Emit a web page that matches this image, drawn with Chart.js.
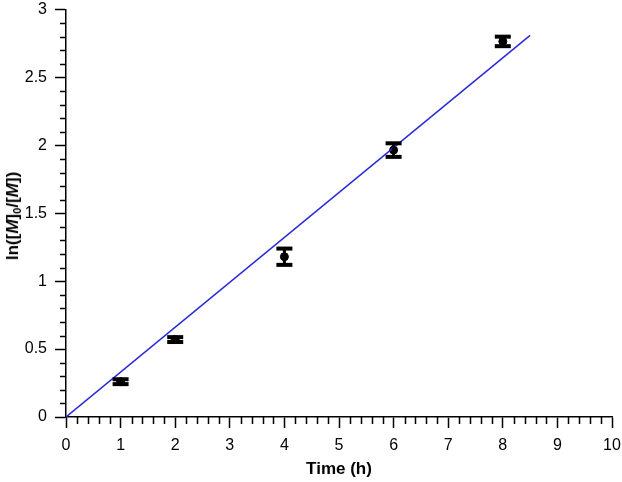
<!DOCTYPE html>
<html>
<head>
<meta charset="utf-8">
<script src="https://cdn.jsdelivr.net/npm/chart.js@4/dist/chart.umd.min.js"></script>
<style>
  html, body { margin: 0; padding: 0; background: #fff; }
  #wrap { position: relative; width: 622px; height: 482px; }
  #ylab {
    position: absolute; left: 13px; top: 216px;
    transform: translate(-50%, -50%) rotate(-90deg);
    font: bold 17px "Liberation Sans", Arial, sans-serif;
    white-space: nowrap; color: #000;
  }
  #ylab i { font-style: italic; }
  #ylab sub { font-size: 11px; vertical-align: -3px; }
</style>
</head>
<body>
<div id="wrap">
  <canvas id="chart" width="622" height="482"></canvas>
  <div id="ylab">ln([<i>M</i>]<sub>0</sub>/[<i>M</i>])</div>
</div>
<script>
'use strict';

/* ─── DATA ───────────────────────────────────────────────── */
const times     = [1, 2, 4, 6, 8];
const lnRatio   = [0.26, 0.57, 1.18, 1.965, 2.765];
const errors    = [0.018, 0.018, 0.06, 0.05, 0.035];
const fitX      = [0, 8.5];
const fitY      = [0, 2.81];
const xTicks    = [0, 1, 2, 3, 4, 5, 6, 7, 8, 9, 10];
const yTicks    = [0, 0.5, 1, 1.5, 2, 2.5, 3];

const FONT = '"Liberation Sans", Arial, Helvetica, sans-serif';

/* ─── PLUGINS ────────────────────────────────────────────── */
// minor ticks on both axes
const minorTicks = {
  id: 'minorTicks',
  afterDraw(chart) {
    const { ctx, chartArea, scales: { x, y } } = chart;
    ctx.save();
    ctx.strokeStyle = '#000';
    ctx.lineWidth = 1.5;
    ctx.beginPath();
    for (let i = 0; i <= 50; i++) {
      if (i % 5 === 0) continue;
      const px = Math.round(x.getPixelForValue(i * 0.2)) + 0.5;
      ctx.moveTo(px, chartArea.bottom);
      ctx.lineTo(px, chartArea.bottom + 7);
    }
    for (let i = 0; i <= 30; i++) {
      if (i % 5 === 0) continue;
      const py = Math.round(y.getPixelForValue(i * 0.1)) + 0.5;
      ctx.moveTo(chartArea.left, py);
      ctx.lineTo(chartArea.left - 6, py);
    }
    ctx.stroke();
    ctx.restore();
  },
};

// error bars with heavy caps
const errorBars = {
  id: 'errorBars',
  afterDatasetsDraw(chart) {
    const { ctx, scales: { x, y } } = chart;
    ctx.save();
    ctx.fillStyle = '#000';
    times.forEach((t, i) => {
      const px = x.getPixelForValue(t);
      const top = y.getPixelForValue(lnRatio[i] + errors[i]);
      const bot = y.getPixelForValue(lnRatio[i] - errors[i]);
      ctx.fillRect(px - 1.5, top, 3, bot - top);
      ctx.fillRect(px - 8, top - 2, 16, 4);
      ctx.fillRect(px - 8, bot - 2, 16, 4);
    });
    ctx.restore();
  },
};

// drop the automatic label overhang so the plot area is set by layout padding
function noOverhang(s) {
  s.paddingTop = 0; s.paddingBottom = 0;
  s.paddingLeft = 0; s.paddingRight = 0;
}

/* ─── CHART ──────────────────────────────────────────────── */
new Chart(document.getElementById('chart'), {
  type: 'scatter',
  data: {
    datasets: [
      {
        type: 'line',
        data: fitX.map((v, i) => ({ x: v, y: fitY[i] })),
        borderColor: '#2a2ad8',
        borderWidth: 1.5,
        pointRadius: 0,
        fill: false,
      },
      {
        data: times.map((t, i) => ({ x: t, y: lnRatio[i] })),
        backgroundColor: '#000',
        borderColor: '#000',
        pointRadius: 4,
      },
    ],
  },
  options: {
    responsive: false,
    animation: false,
    layout: { padding: { top: 9.5, right: 10, left: 0, bottom: 0 } },
    plugins: { legend: { display: false }, tooltip: { enabled: false } },
    scales: {
      x: {
        type: 'linear', min: 0, max: 10,
        afterBuildTicks: s => { s.ticks = xTicks.map(v => ({ value: v })); },
        afterFit: s => { s.height = 65; noOverhang(s); },
        border: { color: '#000', width: 1.5 },
        grid: { drawOnChartArea: false, tickLength: 11, tickColor: '#000', tickWidth: 1.5 },
        ticks: { color: '#000', padding: 8, font: { family: FONT, size: 16 }, callback: v => String(v) },
        title: {
          display: true, text: 'Time (h)', color: '#000',
          padding: { top: 0, bottom: 2 },
          font: { family: FONT, size: 17, weight: 'bold' },
        },
      },
      y: {
        type: 'linear', min: 0, max: 3,
        afterBuildTicks: s => { s.ticks = yTicks.map(v => ({ value: v })); },
        afterFit: s => { s.width = 66; noOverhang(s); },
        border: { color: '#000', width: 1.5 },
        grid: { drawOnChartArea: false, tickLength: 11, tickColor: '#000', tickWidth: 1.5 },
        ticks: { color: '#000', padding: 8, font: { family: FONT, size: 16 }, callback: v => String(v) },
      },
    },
  },
  plugins: [minorTicks, errorBars],
});
</script>
</body>
</html>
